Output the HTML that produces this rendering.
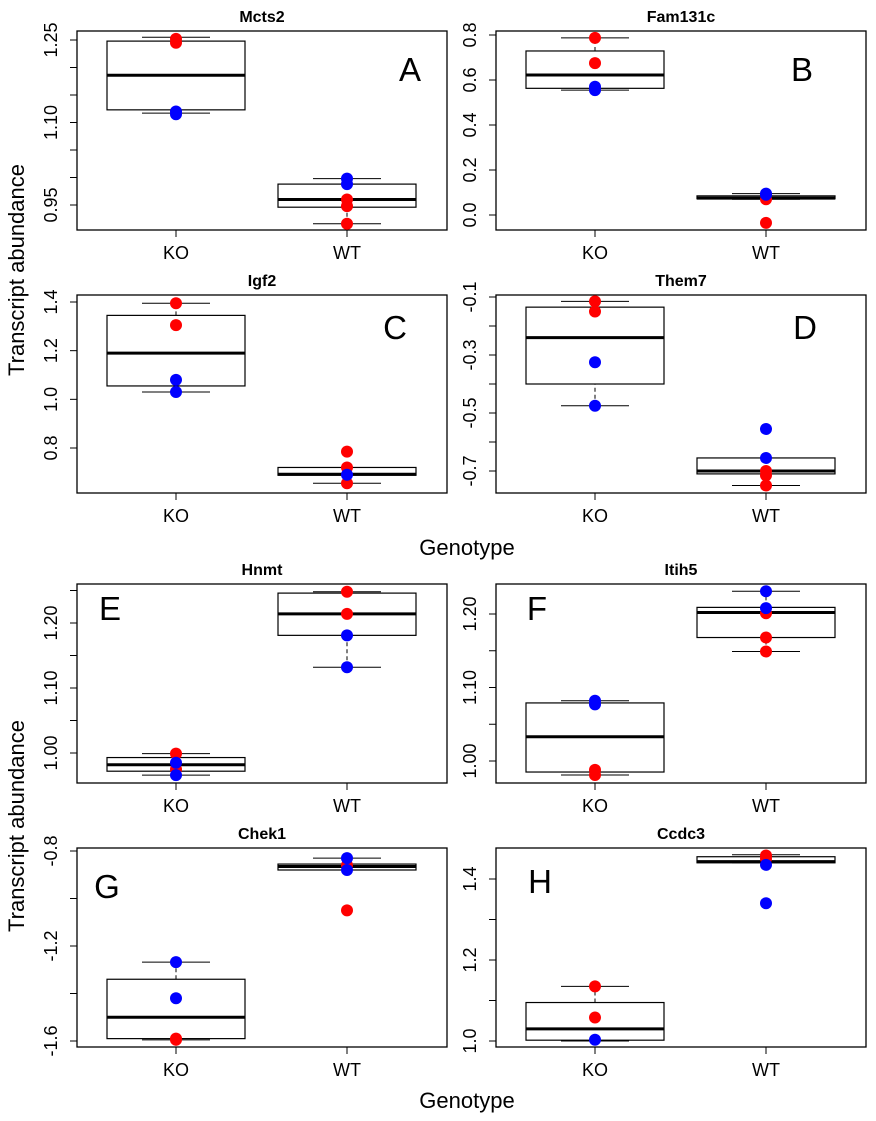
<!DOCTYPE html>
<html><head><meta charset="utf-8"><style>
body{margin:0;background:#fff;}
svg{display:block;font-family:"Liberation Sans",Arial,sans-serif;}
</style></head><body>
<svg id="fig" width="876" height="1121" viewBox="0 0 876 1121">
<text x="24" y="270" font-size="22" text-anchor="middle" transform="rotate(-90 24 270)">Transcript abundance</text>
<text x="467" y="555" font-size="22" text-anchor="middle">Genotype</text>
<text x="24" y="826" font-size="22" text-anchor="middle" transform="rotate(-90 24 826)">Transcript abundance</text>
<text x="467" y="1108" font-size="22" text-anchor="middle">Genotype</text>
</svg>
<script>
const categories = ["KO","WT"];
const geneNames = ["Mcts2","Fam131c","Igf2","Them7","Hnmt","Itih5","Chek1","Ccdc3"];
const panelLetters = ["A","B","C","D","E","F","G","H"];
// box stats per panel: [whiskerMin, q1, median, q3, whiskerMax] for KO and WT
const koStats = [
 [1.117,1.123,1.186,1.248,1.255],
 [0.555,0.563,0.622,0.729,0.787],
 [1.03,1.055,1.19,1.345,1.395],
 [-0.475,-0.40,-0.24,-0.135,-0.115],
 [0.966,0.972,0.982,0.993,0.999],
 [0.981,0.985,1.033,1.079,1.082],
 [-1.595,-1.59,-1.50,-1.34,-1.268],
 [1.0,1.002,1.03,1.095,1.135]];
const wtStats = [
 [0.916,0.946,0.960,0.988,0.998],
 [0.070,0.072,0.075,0.085,0.095],
 [0.655,0.688,0.692,0.72,0.72],
 [-0.75,-0.71,-0.70,-0.655,-0.655],
 [1.132,1.181,1.214,1.246,1.248],
 [1.149,1.168,1.202,1.209,1.231],
 [-0.88,-0.88,-0.865,-0.855,-0.83],
 [1.44,1.44,1.443,1.455,1.46]];
const koRed = [[1.252,1.245],[0.787,0.675],[1.395,1.305],[-0.115,-0.15],[0.999,0.975],[0.988,0.981],[-1.59,-1.595],[1.135,1.058]];
const koBlue = [[1.12,1.115],[0.57,0.555],[1.08,1.03],[-0.325,-0.475],[0.985,0.966],[1.082,1.077],[-1.268,-1.42],[1.003]];
const wtRed = [[0.96,0.948,0.916],[0.07,-0.035],[0.785,0.72,0.655],[-0.70,-0.715,-0.75],[1.248,1.214],[1.201,1.168,1.149],[-0.86,-1.05],[1.458,1.45]];
const wtBlue = [[0.998,0.988],[0.095,0.09],[0.69],[-0.555,-0.655],[1.181,1.132],[1.231,1.208],[-0.83,-0.88],[1.435,1.34]];
const tickValues = [[1.25,1.20,1.15,1.10,1.05,1.00,0.95],[0.8,0.6,0.4,0.2,0.0],[1.4,1.2,1.0,0.8],[-0.1,-0.2,-0.3,-0.4,-0.5,-0.6,-0.7],[1.25,1.20,1.15,1.10,1.05,1.00],[1.20,1.15,1.10,1.05,1.00],[-0.8,-1.0,-1.2,-1.4,-1.6],[1.4,1.3,1.2,1.1,1.0]];
const tickLabels = [["1.25","","","1.10","","","0.95"],["0.8","0.6","0.4","0.2","0.0"],["1.4","1.2","1.0","0.8"],["-0.1","","-0.3","","-0.5","","-0.7"],["","1.20","","1.10","","1.00"],["1.20","","1.10","","1.00"],["-0.8","","-1.2","","-1.6"],["1.4","","1.2","","1.0"]];
// axis calibration: [value, pixel] pairs and vertical frame
const yRefA = [1.25,0.8,1.4,-0.1,1.20,1.20,-0.8,1.4];
const yRefB = [0.95,0.0,0.8,-0.7,1.00,1.00,-1.6,1.0];
const yPixA = [40,35,302,297,623,614,851,879];
const yPixB = [205,215,448,471,753,761,1041,1041];
const frameTop = [31,31,295,295,584,584,848,848];
const frameBot = [230,230,493,493,783,783,1047,1047];
const frameLeft = [77,496,77,496,77,496,77,496];
const letterPos = [[410,81],[802,81],[395,339],[805,339],[110,620],[537,620],[107,898],[540,893]];

const NS="http://www.w3.org/2000/svg";
const svg=document.getElementById('fig');
function mk(tag,attrs,parent){const e=document.createElementNS(NS,tag);for(const k in attrs)e.setAttribute(k,attrs[k]);(parent||svg).appendChild(e);return e;}

for(let p=0;p<8;p++){
  const g=mk('g',{});
  
  
  const y=v=>yPixA[p]+(v-yRefA[p])*(yPixB[p]-yPixA[p])/(yRefB[p]-yRefA[p]);
  const L=frameLeft[p], W=370;
  const x=i=>L+99+i*171;
  const fr=mk('rect',{x:L,y:frameTop[p],width:W,height:frameBot[p]-frameTop[p],fill:'none',stroke:'#000','stroke-width':1.3},g);
  
  
  const t=mk('text',{x:L+W/2,y:frameTop[p]-9,'font-size':16,'font-weight':'bold','text-anchor':'middle'},g);
  t.textContent=geneNames[p];
  
  
  const lt=mk('text',{x:letterPos[p][0],y:letterPos[p][1],'font-size':33,'text-anchor':'middle'},g);
  lt.textContent=panelLetters[p];
  
  
  tickValues[p].forEach((v,i)=>{
    const yy=y(v);
    const tk=mk('line',{x1:L-7,x2:L,y1:yy,y2:yy,stroke:'#000','stroke-width':1},g);
    
    
    if(tickLabels[p][i]){
      const tx=mk('text',{x:L-20,y:yy,'font-size':18,'text-anchor':'middle',transform:`rotate(-90 ${L-20} ${yy})`},g);
      tx.textContent=tickLabels[p][i];
      
      
    }
  });
  categories.forEach((c,i)=>{
    const xx=x(i);
    const tk=mk('line',{x1:xx,x2:xx,y1:frameBot[p],y2:frameBot[p]+7,stroke:'#000'},g);
    
    
    const tx=mk('text',{x:xx,y:frameBot[p]+29,'font-size':18,'text-anchor':'middle'},g);
    tx.textContent=c;
    
    
    const s=(i===0?koStats:wtStats)[p];
    const bx=mk('g',{},g);
    
    
    mk('line',{x1:xx,x2:xx,y1:y(s[0]),y2:y(s[1]),stroke:'#000','stroke-dasharray':'4,3'},bx);
    mk('line',{x1:xx,x2:xx,y1:y(s[3]),y2:y(s[4]),stroke:'#000','stroke-dasharray':'4,3'},bx);
    mk('line',{x1:xx-34,x2:xx+34,y1:y(s[0]),y2:y(s[0]),stroke:'#000'},bx);
    mk('line',{x1:xx-34,x2:xx+34,y1:y(s[4]),y2:y(s[4]),stroke:'#000'},bx);
    mk('rect',{x:xx-69,y:y(s[3]),width:138,height:Math.max(1,y(s[1])-y(s[3])),fill:'#fff',stroke:'#000','stroke-width':1.2},bx);
    mk('line',{x1:xx-69,x2:xx+69,y1:y(s[2]),y2:y(s[2]),stroke:'#000','stroke-width':3},bx);
    const reds=(i===0?koRed:wtRed)[p], blues=(i===0?koBlue:wtBlue)[p];
    reds.forEach(v=>{const d=mk('circle',{cx:xx,cy:y(v),r:6,fill:'#ff0000'},g);
      
      });
    blues.forEach(v=>{const d=mk('circle',{cx:xx,cy:y(v),r:6,fill:'#0000ff'},g);
      
      });
  });
}
</script>
</body></html>
